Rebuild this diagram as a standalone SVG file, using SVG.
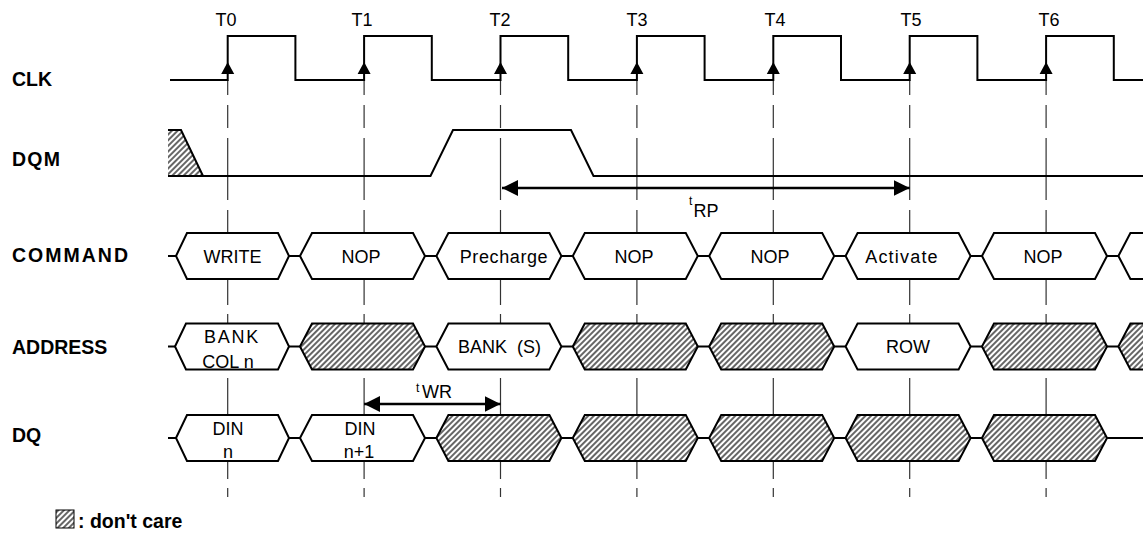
<svg xmlns="http://www.w3.org/2000/svg" width="1143" height="535" viewBox="0 0 1143 535">
<defs>
<pattern id="hatch" width="4" height="4" patternUnits="userSpaceOnUse" patternTransform="rotate(45)">
<rect width="4" height="4" fill="#fff"/>
<line x1="2" y1="0" x2="2" y2="4" stroke="#000" stroke-width="1.2"/>
</pattern>
<marker id="ah" markerWidth="16" markerHeight="16" viewBox="0 0 16 16" refX="16" refY="8" orient="auto-start-reverse" markerUnits="userSpaceOnUse">
<path d="M0,0 L16,8 L0,16 Z" fill="#000"/>
</marker>
</defs>
<style>
.sig{fill:none;stroke:#000;stroke-width:2}
.hex{fill:#fff;stroke:#000;stroke-width:2}
.hh{fill:url(#hatch);stroke:#000;stroke-width:2}
.dash{stroke:#333;stroke-width:1.2}
.lbl{font-family:"Liberation Sans",Arial,sans-serif;font-weight:bold;font-size:19.5px;fill:#000}
.t{font-family:"Liberation Sans",Arial,sans-serif;font-size:18px;fill:#000;text-anchor:middle}
.sub{font-family:"Liberation Sans",Arial,sans-serif;font-size:12px;fill:#000}
.arr{fill:none;stroke:#000;stroke-width:2.5}
</style>
<rect width="1143" height="535" fill="#fff"/>

<g id="labels">
<text class="lbl" x="12" y="86">CLK</text>
<text class="lbl" x="12" y="166" letter-spacing="1.2">DQM</text>
<text class="lbl" x="12" y="262" letter-spacing="2">COMMAND</text>
<text class="lbl" x="12" y="354">ADDRESS</text>
<text class="lbl" x="12" y="442">DQ</text>
<text class="t" x="226" y="26" font-size="18.5">T0</text>
<text class="t" x="362" y="26" font-size="18.5">T1</text>
<text class="t" x="500" y="26" font-size="18.5">T2</text>
<text class="t" x="637" y="26" font-size="18.5">T3</text>
<text class="t" x="775" y="26" font-size="18.5">T4</text>
<text class="t" x="911" y="26" font-size="18.5">T5</text>
<text class="t" x="1049" y="26" font-size="18.5">T6</text>
</g>

<g id="gridlines">
<path class="dash" d="M227.7,80V95M227.7,105V128M227.7,138V200M227.7,210V305M227.7,314V370M227.7,378V479M227.7,488V497"/>
<path class="dash" d="M364.1,80V95M364.1,105V128M364.1,138V200M364.1,210V305M364.1,314V370M364.1,378V479M364.1,488V497"/>
<path class="dash" d="M500.5,80V95M500.5,105V128M500.5,138V200M500.5,210V305M500.5,314V370M500.5,378V479M500.5,488V497"/>
<path class="dash" d="M636.9,80V95M636.9,105V128M636.9,138V200M636.9,210V305M636.9,314V370M636.9,378V479M636.9,488V497"/>
<path class="dash" d="M773.3,80V95M773.3,105V128M773.3,138V200M773.3,210V305M773.3,314V370M773.3,378V479M773.3,488V497"/>
<path class="dash" d="M909.7,80V95M909.7,105V128M909.7,138V200M909.7,210V305M909.7,314V370M909.7,378V479M909.7,488V497"/>
<path class="dash" d="M1046.1,80V95M1046.1,105V128M1046.1,138V200M1046.1,210V305M1046.1,314V370M1046.1,378V479M1046.1,488V497"/>
</g>

<g id="clk">
<path class="sig" d="M170,80H227.7V36H295.4V80H364.1V36H431.8V80H500.5V36H568.2V80H636.9V36H704.6V80H773.3V36H841V80H909.7V36H977.4V80H1046.1V36H1113.8V80H1143"/>
<path d="M227.7,62l-6.5,12h13zM364.1,62l-6.5,12h13zM500.5,62l-6.5,12h13zM636.9,62l-6.5,12h13zM773.3,62l-6.5,12h13zM909.7,62l-6.5,12h13zM1046.1,62l-6.5,12h13z" fill="#000"/>
</g>

<g id="dqm">
<path d="M168,130H181L203,176H168Z" fill="url(#hatch)" stroke="none"/>
<path class="sig" d="M168,130H181L203,176"/>
<path class="sig" d="M168,176H430.5L453,130H571L593.5,176H1143"/>
</g>

<g id="command">
<path class="sig" d="M168,256H176M289,256H300M425,256H436.4M561.4,256H572.8M697.8,256H709.2M834.2,256H845.6M970.6,256H982M1107,256H1118.4"/>
<polygon class="hex" points="176,256 187,233 278,233 289,256 278,279 187,279"/>
<text class="t" x="232.5" y="262.5">WRITE</text>
<polygon class="hex" points="300,256 312,233 413,233 425,256 413,279 312,279"/>
<text class="t" x="361" y="262.5">NOP</text>
<polygon class="hex" points="436.4,256 448.4,233 549.4,233 561.4,256 549.4,279 448.4,279"/>
<text class="t" x="504" y="262.5" letter-spacing="0.6">Precharge</text>
<polygon class="hex" points="572.8,256 584.8,233 685.8,233 697.8,256 685.8,279 584.8,279"/>
<text class="t" x="634" y="262.5">NOP</text>
<polygon class="hex" points="709.2,256 721.2,233 822.2,233 834.2,256 822.2,279 721.2,279"/>
<text class="t" x="770" y="262.5">NOP</text>
<polygon class="hex" points="845.6,256 857.6,233 958.6,233 970.6,256 958.6,279 857.6,279"/>
<text class="t" x="902" y="262.5" letter-spacing="1.2">Activate</text>
<polygon class="hex" points="982,256 994,233 1095,233 1107,256 1095,279 994,279"/>
<text class="t" x="1043" y="262.5">NOP</text>
<polygon class="hex" points="1118.4,256 1130.4,233 1231.4,233 1243.4,256 1231.4,279 1130.4,279"/>
</g>

<g id="address">
<path class="sig" d="M168,346.5H175M289,346.5H300M425,346.5H436.4M561.4,346.5H572.8M697.8,346.5H709.2M834.2,346.5H845.6M970.6,346.5H982M1107,346.5H1118.4"/>
<polygon class="hex" points="175,346.5 186,323.5 278,323.5 289,346.5 278,369.5 186,369.5"/>
<text class="t" x="232" y="343" letter-spacing="1.8">BANK</text>
<text class="t" x="228" y="368">COL n</text>
<polygon class="hh" points="300,346.5 312,323.5 413,323.5 425,346.5 413,369.5 312,369.5"/>
<polygon class="hex" points="436.4,346.5 448.4,323.5 549.4,323.5 561.4,346.5 549.4,369.5 448.4,369.5"/>
<text class="t" x="499.5" y="353" xml:space="preserve">BANK  (S)</text>
<polygon class="hh" points="572.8,346.5 584.8,323.5 685.8,323.5 697.8,346.5 685.8,369.5 584.8,369.5"/>
<polygon class="hh" points="709.2,346.5 721.2,323.5 822.2,323.5 834.2,346.5 822.2,369.5 721.2,369.5"/>
<polygon class="hex" points="845.6,346.5 857.6,323.5 958.6,323.5 970.6,346.5 958.6,369.5 857.6,369.5"/>
<text class="t" x="908" y="353" font-size="16">ROW</text>
<polygon class="hh" points="982,346.5 994,323.5 1095,323.5 1107,346.5 1095,369.5 994,369.5"/>
<polygon class="hh" points="1118.4,346.5 1130.4,323.5 1231.4,323.5 1243.4,346.5 1231.4,369.5 1130.4,369.5"/>
</g>

<g id="dq">
<path class="sig" d="M168,438H176M289,438H300M425,438H436.4M561.4,438H572.8M697.8,438H709.2M834.2,438H845.6M970.6,438H982M1107,438H1143"/>
<polygon class="hex" points="176,438 187,415 278,415 289,438 278,461 187,461"/>
<text class="t" x="228" y="435">DIN</text>
<text class="t" x="228" y="458">n</text>
<polygon class="hex" points="300,438 312,415 413,415 425,438 413,461 312,461"/>
<text class="t" x="360" y="435">DIN</text>
<text class="t" x="359" y="458">n+1</text>
<polygon class="hh" points="436.4,438 448.4,415 549.4,415 561.4,438 549.4,461 448.4,461"/>
<polygon class="hh" points="572.8,438 584.8,415 685.8,415 697.8,438 685.8,461 584.8,461"/>
<polygon class="hh" points="709.2,438 721.2,415 822.2,415 834.2,438 822.2,461 721.2,461"/>
<polygon class="hh" points="845.6,438 857.6,415 958.6,415 970.6,438 958.6,461 857.6,461"/>
<polygon class="hh" points="982,438 994,415 1095,415 1107,438 1095,461 994,461"/>
</g>

<g id="timing">
<line class="arr" x1="502" y1="188" x2="909.7" y2="188" marker-start="url(#ah)" marker-end="url(#ah)"/>
<text class="sub" x="689" y="205">t</text>
<text class="t" x="706" y="217">RP</text>
<line class="arr" x1="364.1" y1="404" x2="500.5" y2="404" marker-start="url(#ah)" marker-end="url(#ah)"/>
<text class="sub" x="416" y="392">t</text>
<text class="t" x="437" y="398">WR</text>
</g>

<g id="legend">
<rect x="56" y="510" width="18" height="18" fill="url(#hatch)" stroke="#000" stroke-width="1"/>
<text class="lbl" x="78" y="528" font-size="21">: don't care</text>
</g>
</svg>
